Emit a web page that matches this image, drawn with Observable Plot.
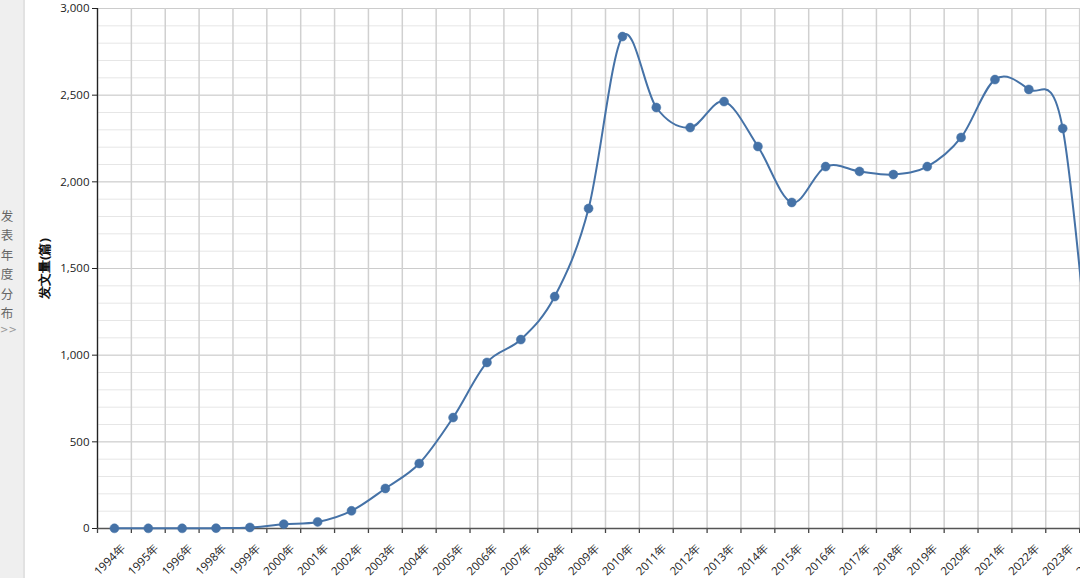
<!DOCTYPE html>
<html>
<head>
<meta charset="utf-8">
<script src="https://cdn.jsdelivr.net/npm/d3@7"></script>
<script src="https://cdn.jsdelivr.net/npm/@observablehq/plot@0.6"></script>
<style>
  html, body { margin: 0; padding: 0; background: #fff; overflow: hidden; width: 1080px; height: 578px; }
  #sidebar { position: absolute; left: 0; top: 0; width: 23px; height: 578px; background: #efefef; border-right: 2px solid #e2e2e2; z-index: 2; }
  #sidebar .t { position: absolute; left: 0; top: 206px; width: 14px; text-align: center; font-family: "Noto Sans CJK SC", serif; font-size: 12.5px; line-height: 19.4px; color: #666; }
  #sidebar .a { position: absolute; left: 0; top: 324px; width: 14px; text-align: center; font-family: "DejaVu Sans", sans-serif; font-size: 10px; color: #999; }
  #chart { position: absolute; left: 0; top: 0; width: 1113px; }
  #chart svg { max-width: none !important; }
</style>
</head>
<body>
<div id="sidebar"><div class="t">发<br>表<br>年<br>度<br>分<br>布</div><div class="a">&gt;&gt;</div></div>
<div id="chart"></div>
<script>
const years = ["1994年","1995年","1996年","1998年","1999年","2000年","2001年","2002年","2003年","2004年",
  "2005年","2006年","2007年","2008年","2009年","2010年","2011年","2012年","2013年","2014年",
  "2015年","2016年","2017年","2018年","2019年","2020年","2021年","2022年","2023年","2024年"];
const counts = [1,1,1,2,6,25,38,102,231,375,
  640,958,1090,1338,1846,2838,2429,2313,2463,2204,
  1881,2088,2060,2042,2088,2256,2590,2533,2308,450];
const majorTicks = [0,500,1000,1500,2000,2500,3000];
const minorTicks = d3.range(0, 3001, 100);
const yLabel = "发文量(篇)";

const data = years.map((y, i) => ({year: y, value: counts[i]}));

const W = 1113, ML = 97, MR = 0, MT = 8, MB = 50, H = 578;
const bw = (W - ML - MR) / years.length;
const color = "#4572a7";
const font = "'Open Sans', 'Liberation Sans', sans-serif";

const chart = Plot.plot({
  width: W, height: H,
  marginLeft: ML, marginRight: MR, marginTop: MT, marginBottom: MB,
  style: {fontFamily: font, fontSize: "11.5px", color: "#222", background: "#fff", maxWidth: "none"},
  x: {type: "band", domain: years, padding: 0, round: false},
  y: {domain: [0, 3000]},
  marks: [
    Plot.ruleY(minorTicks, {y: d => d, stroke: "#e6e6e6", strokeWidth: 1}),
    Plot.ruleY(majorTicks, {y: d => d, stroke: "#cccccc", strokeWidth: 1}),
    Plot.ruleX(years, {x: d => d, dx: -bw / 2, y1: 0, y2: 3000, stroke: "#d0d0d0", strokeWidth: 1.5}),
    Plot.ruleX(years, {x: d => d, dx: -bw / 2, y1: 0, y2: 0, insetBottom: -5, stroke: "#444", strokeWidth: 1.3}),
    Plot.ruleY([0], {stroke: "#555", strokeWidth: 1.5}),
    Plot.axisY({ticks: majorTicks, tickFormat: d3.format(","), tickSize: 5, tickPadding: 3, stroke: "#222", label: null, fill: "#222"}),
    Plot.ruleX([years[0]], {x: d => d, dx: -bw / 2, y1: 0, y2: 3000, stroke: "#222", strokeWidth: 1.3}),
    Plot.axisX({tickSize: 0, tickRotate: -45, dx: 9, dy: 6, fontSize: 11.5, label: null, fill: "#222"}),
    Plot.text([yLabel], {frameAnchor: "left", textAnchor: "middle", rotate: -90, dx: -53, fontWeight: "bold", fontSize: 13, fill: "#111"}),
    Plot.line(data, {x: "year", y: "value", curve: "cardinal", stroke: color, strokeWidth: 2}),
    Plot.dot(data, {x: "year", y: "value", r: 4.5, fill: color, stroke: color, strokeWidth: 0.5})
  ]
});
document.getElementById("chart").appendChild(chart);
</script>
</body>
</html>
